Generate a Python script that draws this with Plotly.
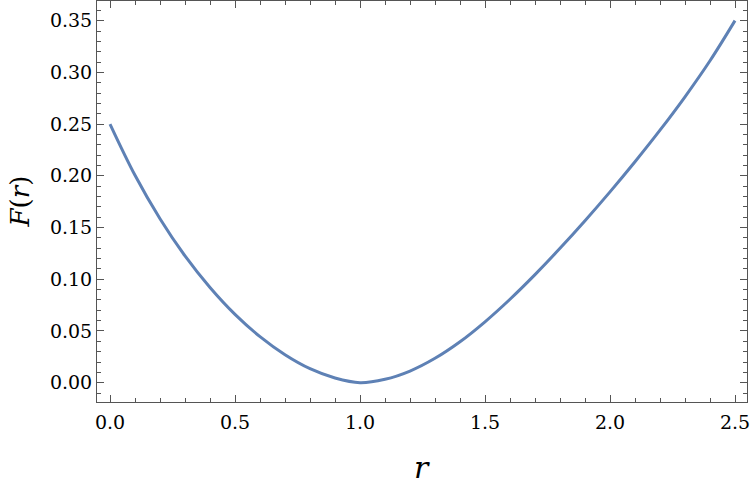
import plotly.graph_objects as go

r_vals = [0.0, 0.1, 0.2, 0.3, 0.4, 0.5, 0.6, 0.7, 0.8, 0.9, 1.0,
          1.1, 1.2, 1.3, 1.4, 1.5, 1.6, 1.7, 1.8, 1.9, 2.0,
          2.1, 2.2, 2.3, 2.4, 2.5]
F_vals = [0.250, 0.2005, 0.1585, 0.1225, 0.092, 0.066, 0.0445, 0.027, 0.0135, 0.0045, 0.0,
          0.0033, 0.0113, 0.0236, 0.0396, 0.0589, 0.0807, 0.1045, 0.1299, 0.1566, 0.1845,
          0.2136, 0.2441, 0.2764, 0.3112, 0.350]

x_ticks = [0.0, 0.5, 1.0, 1.5, 2.0, 2.5]
x_ticktext = ["0.0", "0.5", "1.0", "1.5", "2.0", "2.5"]
y_ticks = [0.00, 0.05, 0.10, 0.15, 0.20, 0.25, 0.30, 0.35]
y_ticktext = ["0.00", "0.05", "0.10", "0.15", "0.20", "0.25", "0.30", "0.35"]

frame_col = "#555555"
font_fam = "DejaVu Serif"

fig = go.Figure()
fig.add_trace(go.Scatter(x=r_vals, y=F_vals, mode="lines",
                         line=dict(color="#5E81B5", width=3, shape="spline", smoothing=1.0),
                         showlegend=False, hoverinfo="skip"))

axis_common = dict(showline=True, linecolor=frame_col, linewidth=1, mirror="allticks",
                   ticks="inside", ticklen=7, tickwidth=1, tickcolor=frame_col,
                   showgrid=False, zeroline=False, ticklabeloverflow="allow",
                   tickfont=dict(family=font_fam, size=19, color="black"))

fig.update_xaxes(range=[-0.052, 2.548], tickvals=x_ticks, ticktext=x_ticktext,
                 ticklabelstandoff=3,
                 minor=dict(dtick=0.1, tick0=0, ticks="inside", ticklen=4, tickcolor=frame_col, showgrid=False),
                 **axis_common)
fig.update_yaxes(range=[-0.01866, 0.369], tickvals=y_ticks, ticktext=y_ticktext,
                 minor=dict(dtick=0.01, tick0=0, ticks="inside", ticklen=4, tickcolor=frame_col, showgrid=False),
                 **axis_common)

fig.add_annotation(text="<i>r</i>", xref="paper", yref="paper", x=0.5, y=0,
                   xanchor="center", yanchor="middle", yshift=-65, showarrow=False,
                   font=dict(family=font_fam, size=30, color="black"))
fig.add_annotation(text="<i>F</i>(<i>r</i>)", xref="paper", yref="paper", x=0, y=0.5,
                   xanchor="center", yanchor="middle", xshift=-78, textangle=-90, showarrow=False,
                   font=dict(family=font_fam, size=26, color="black"))

fig.update_layout(width=750, height=486, margin=dict(l=97, r=3, t=1, b=84),
                  plot_bgcolor="white", paper_bgcolor="white")

fig.write_html("out.html")
